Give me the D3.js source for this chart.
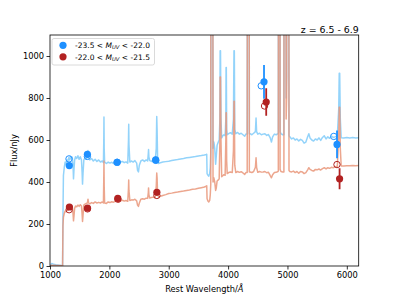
<!DOCTYPE html>
<html>
<head>
<meta charset="utf-8">
<script src="https://cdn.jsdelivr.net/npm/d3@7"></script>
<style>
  html, body { margin: 0; padding: 0; background: #fff; }
  svg { display: block; font-family: "DejaVu Sans", sans-serif; }
</style>
</head>
<body>
<svg id="chart" width="399" height="299"></svg>
<script>
// ---------------- DATA ----------------
const titleText = "z = 6.5 - 6.9";
const xTicks = [1000, 2000, 3000, 4000, 5000, 6000];
const yTicks = [0, 200, 400, 600, 800, 1000];
const legendLabels = [["-23.5 < ", "M", "UV", " < -22.0"], ["-22.0 < ", "M", "UV", " < -21.5"]];

// model spectra grid (rest wavelength, Angstrom)
const waveGrid = [1000,1030,1060,1100,1150,1200,1212,1218,1226,1240,1255,1270,1285,1300,1315,1330,1345,1360,1375,1388,1396,1404,1415,1430,1450,1470,1490,1510,1530,1540,1548,1556,1570,1590,1610,1630,1640,1650,1670,1700,1730,1760,1790,1820,1850,1880,1900,1906,1909,1913,1920,1950,1980,2010,2040,2070,2100,2130,2160,2190,2220,2250,2280,2310,2322,2326,2330,2345,2375,2400,2430,2460,2475,2490,2505,2530,2560,2590,2620,2645,2656,2660,2666,2680,2710,2740,2770,2790,2798,2804,2812,2830,2860,2900,2950,3000,3050,3100,3150,3200,3250,3300,3350,3400,3450,3500,3550,3600,3630,3640,3646,3660,3675,3690,3700,3708,3714,3740,3746,3760,3775,3790,3800,3815,3835,3850,3862,3866,3872,3880,3892,3910,3930,3950,3962,3966,3970,3976,3985,4010,4040,4070,4090,4099,4105,4112,4130,4160,4190,4220,4250,4280,4300,4322,4328,4352,4358,4370,4400,4430,4460,4471,4480,4500,4530,4560,4590,4620,4650,4680,4710,4730,4750,4780,4810,4840,4846,4850,4872,4876,4890,4920,4940,4946,4970,4978,4986,4992,5020,5026,5040,5070,5100,5130,5160,5190,5220,5250,5280,5310,5340,5360,5380,5410,5440,5470,5500,5530,5560,5590,5620,5650,5680,5710,5740,5770,5800,5840,5864,5872,5880,5890,5905,5950,6000,6050,6100,6150,6200];

const fluxBright = [0,12,8,6,4,2,1,230,430,468,495,485,505,498,515,505,522,510,518,480,415,460,505,520,512,525,508,520,505,450,390,440,505,515,508,518,550,515,505,512,500,508,498,505,495,500,492,600,710,560,495,488,495,490,494,488,492,497,490,495,498,492,496,490,600,675,580,495,500,495,502,490,455,448,480,500,505,498,505,500,535,555,520,502,498,505,495,560,712,650,520,488,492,495,497,499,502,505,507,510,512,515,517,519,521,524,526,529,531,532,440,432,428,440,470,540,2000,2000,560,590,560,485,520,575,590,600,700,1025,1025,700,610,620,625,620,700,945,945,650,625,630,635,628,700,1025,1025,650,630,636,628,632,625,618,628,628,2500,2500,630,630,625,632,640,705,640,628,632,625,628,630,622,626,610,590,615,628,625,630,632,3000,3000,640,630,625,625,3000,3000,800,900,3000,3000,620,615,605,610,600,605,595,603,598,585,590,615,630,610,600,595,605,600,610,598,612,620,605,615,608,618,612,615,620,750,918,918,700,611,610,612,610,612,610,611];

const fluxFaint = [0,4,3,2,2,1,0,190,232,250,262,258,268,265,272,270,280,276,283,250,215,238,275,285,282,290,284,292,286,250,212,240,290,295,298,300,318,300,296,302,298,305,300,303,300,305,300,420,500,380,300,298,305,302,306,304,308,310,306,310,313,309,312,308,370,410,360,312,315,314,318,310,290,284,300,318,320,318,323,322,350,372,340,324,326,328,325,380,443,420,345,328,332,336,340,345,347,350,352,355,357,360,362,365,367,370,373,376,380,382,320,310,305,312,340,390,3000,3000,400,420,400,360,370,405,410,415,600,900,900,600,425,430,435,432,600,730,730,500,440,445,448,445,550,785,785,480,445,450,446,449,443,436,445,445,3000,3000,448,448,445,450,470,515,470,446,450,447,448,450,444,446,430,420,435,445,446,450,452,3000,3000,460,450,448,448,3000,3000,700,800,3000,3000,455,450,448,452,445,450,442,450,448,440,445,458,468,460,455,452,460,458,462,457,464,468,462,468,465,470,468,472,475,620,756,756,560,476,476,477,477,478,477,478];

// photometry (observed, filled)
const photWaveBright = [1325, 1630, 2130, 2780, 4605, 5835];
const photFluxBright = [478, 532, 494, 505, 877, 579];
const photErrBright  = [12, 12, 12, 15, 80, 66];
const photWaveFaint  = [1327, 1632, 2142, 2800, 4642, 5878];
const photFluxFaint  = [281, 276, 322, 351, 781, 415];
const photErrFaint   = [10, 10, 10, 12, 65, 50];

// model photometry (open circles)
const modelWaveBright = [1320, 1630, 2132, 2782, 4558, 5780];
const modelFluxBright = [510, 522, 494, 503, 858, 617];
const modelWaveFaint  = [1322, 1632, 2144, 2800, 4614, 5834];
const modelFluxFaint  = [268, 272, 318, 336, 762, 483];

// ---------------- CHART ----------------
const W = 399, H = 299;
const m = {left: 50, right: 358.7, top: 35, bottom: 266};
const blueLine = "#87CEFA", redLine = "#E9967A";
const bluePt = "#1E90FF", redPt = "#B22222";

const svg = d3.select("#chart");
const x = d3.scaleLinear().domain([1000, 6200]).range([m.left, m.right]);
const y = d3.scaleLinear().domain([0, 1100]).range([m.bottom, m.top]);

svg.append("defs").append("clipPath").attr("id", "clip")
  .append("rect").attr("x", m.left).attr("y", m.top)
  .attr("width", m.right - m.left).attr("height", m.bottom - m.top);

const plot = svg.append("g").attr("clip-path", "url(#clip)");
const line = d3.line().x(d => x(d[0])).y(d => y(d[1]));

const specBright = waveGrid.map((w, i) => [w, fluxBright[i]]);
const specFaint = waveGrid.map((w, i) => [w, fluxFaint[i]]);

plot.append("path").datum(specBright).attr("d", line)
  .attr("fill", "none").attr("stroke", blueLine).attr("stroke-width", 1.5)
  .attr("stroke-opacity", 0.9).attr("stroke-linejoin", "round");
plot.append("path").datum(specFaint).attr("d", line)
  .attr("fill", "none").attr("stroke", redLine).attr("stroke-width", 1.5)
  .attr("stroke-opacity", 0.85).attr("stroke-linejoin", "round");

function drawPhot(waves, fluxes, errs, color) {
  const g = plot.append("g");
  waves.forEach((w, i) => {
    g.append("line").attr("x1", x(w)).attr("x2", x(w))
      .attr("y1", y(fluxes[i] - errs[i])).attr("y2", y(fluxes[i] + errs[i]))
      .attr("stroke", color).attr("stroke-width", 1.8);
  });
  g.selectAll("circle").data(waves).enter().append("circle")
    .attr("cx", d => x(d)).attr("cy", (d, i) => y(fluxes[i]))
    .attr("r", 3.6).attr("fill", color);
}
function drawModel(waves, fluxes, color) {
  plot.append("g").selectAll("circle").data(waves).enter().append("circle")
    .attr("cx", d => x(d)).attr("cy", (d, i) => y(fluxes[i]))
    .attr("r", 3.2).attr("fill", "none").attr("stroke", color).attr("stroke-width", 1);
}
drawModel(modelWaveBright, modelFluxBright, bluePt);
drawModel(modelWaveFaint, modelFluxFaint, redPt);
drawPhot(photWaveBright, photFluxBright, photErrBright, bluePt);
drawPhot(photWaveFaint, photFluxFaint, photErrFaint, redPt);

// axes
const fs = 8.3;
const xAxis = svg.append("g").attr("transform", `translate(0,${m.bottom})`)
  .call(d3.axisBottom(x).tickValues(xTicks).tickSize(3.5).tickPadding(2.5).tickFormat(d3.format("d")));
const yAxis = svg.append("g").attr("transform", `translate(${m.left},0)`)
  .call(d3.axisLeft(y).tickValues(yTicks).tickSize(3.5).tickPadding(2.5).tickFormat(d3.format("d")));
[xAxis, yAxis].forEach(a => {
  a.select(".domain").remove();
  a.selectAll(".tick line").attr("stroke", "#000").attr("stroke-width", 0.8);
  a.selectAll(".tick text").attr("font-size", fs).attr("font-family", "DejaVu Sans").attr("fill", "#000");
});

// frame
svg.append("rect").attr("x", m.left).attr("y", m.top)
  .attr("width", m.right - m.left).attr("height", m.bottom - m.top)
  .attr("fill", "none").attr("stroke", "#000").attr("stroke-width", 0.8);

// labels
svg.append("text").attr("x", (m.left + m.right) / 2).attr("y", 292)
  .attr("text-anchor", "middle").attr("font-size", fs)
  .text("Rest Wavelength/").append("tspan").attr("font-style", "italic").text("Å");
svg.append("text").attr("transform", `translate(16.5,${(m.top + m.bottom) / 2}) rotate(-90)`)
  .attr("text-anchor", "middle").attr("font-size", fs).text("Flux/nJy");
svg.append("text").attr("x", m.right).attr("y", 33)
  .attr("text-anchor", "end").attr("font-size", 9.4).text(titleText);

// legend
const lg = svg.append("g");
lg.append("rect").attr("x", 52).attr("y", 38.5).attr("width", 102.5).attr("height", 26.5)
  .attr("rx", 2).attr("fill", "#fff").attr("fill-opacity", 0.8)
  .attr("stroke", "#d0d0d0").attr("stroke-width", 0.8);
const legColors = [bluePt, redPt];
legendLabels.forEach((lab, i) => {
  const cy = 45.3 + i * 11.5;
  lg.append("circle").attr("cx", 63).attr("cy", cy).attr("r", 3.6).attr("fill", legColors[i]);
  const t = lg.append("text").attr("x", 75).attr("y", cy + 2.7).attr("font-size", 7.5);
  t.append("tspan").text(lab[0]);
  t.append("tspan").attr("font-style", "italic").text(lab[1]);
  t.append("tspan").attr("font-style", "italic").attr("font-size", 5.3).attr("dy", 1.4).text(lab[2]);
  t.append("tspan").attr("dy", -1.4).text(lab[3]);
});
</script>
</body>
</html>
